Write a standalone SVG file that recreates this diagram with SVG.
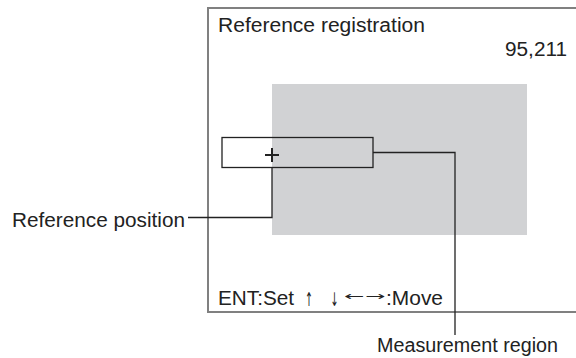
<svg xmlns="http://www.w3.org/2000/svg" width="576" height="358" viewBox="0 0 576 358">
<style>
.t{font-family:"Liberation Sans",Arial,sans-serif;font-size:19.5px;fill:#222}
.a{font-family:"DejaVu Sans",sans-serif;fill:#222}
.ln{fill:none;stroke:#222;stroke-width:1.3}
</style>
<rect width="576" height="358" fill="#fff"/>
<g id="screen">
<path d="M577 8H208V312H577" fill="none" stroke="#808080" stroke-width="2"/>
<text class="t" x="218" y="32" textLength="207" lengthAdjust="spacingAndGlyphs">Reference registration</text>
<text class="t" x="505" y="56" textLength="62" lengthAdjust="spacingAndGlyphs">95,211</text>
<text class="t" x="218" y="305" textLength="76" lengthAdjust="spacingAndGlyphs">ENT:Set</text>
<text class="a" y="306" font-size="19"><tspan x="305" textLength="8" lengthAdjust="spacingAndGlyphs">↑</tspan><tspan x="330.5" textLength="8" lengthAdjust="spacingAndGlyphs">↓</tspan><tspan x="344.5" y="300" font-size="12" textLength="40.5" lengthAdjust="spacingAndGlyphs">←→</tspan></text>
<text class="t" x="386" y="305" textLength="57" lengthAdjust="spacingAndGlyphs">:Move</text>
</g>
<g id="measurement-region-area">
<rect x="272" y="84" width="255" height="151" fill="#d1d2d4"/>
</g>
<g id="reference-box">
<rect x="222" y="137.5" width="151" height="30" class="ln"/>
<path d="M265 155H279M272 148V162" stroke="#222" stroke-width="2" fill="none"/>
</g>
<g id="connectors">
<path class="ln" d="M272 167.5V217.5H188"/>
<path class="ln" d="M373 152.5H455V335"/>
</g>
<g id="label-reference-position">
<text class="t" x="12" y="227" textLength="173" lengthAdjust="spacingAndGlyphs">Reference position</text>
</g>
<g id="label-measurement-region">
<text class="t" x="377" y="352" textLength="181" lengthAdjust="spacingAndGlyphs">Measurement region</text>
</g>
</svg>
